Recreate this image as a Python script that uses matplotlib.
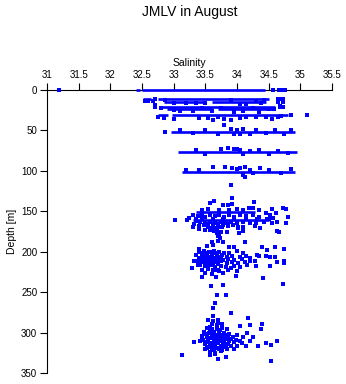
import numpy as np
import matplotlib
matplotlib.use('Agg')
import matplotlib.pyplot as plt

plt.rcParams['font.family'] = ['Liberation Sans', 'DejaVu Sans']

# continuous runs of samples along the standard depths: depth, salinity from, salinity to
run_depth = [0, 0, 11, 11, 14.5, 14.5, 20.5, 24, 24, 31, 31, 51.5, 77, 101, 151, 161]
run_start = [32.41, 32.50, 32.52, 32.75, 32.85, 33.6, 32.78, 32.9, 33.7, 32.75, 32.97, 32.95, 33.07, 33.13, 33.36, 33.30]
run_end = [32.47, 34.44, 32.64, 34.50, 33.5, 34.45, 34.60, 33.6, 34.55, 32.91, 34.80, 34.92, 34.94, 34.92, 34.28, 34.50]

# single samples around the upper layers
upper_pts = [
    (31.19, 0), (34.57, 0), (34.67, 0), (34.70, 0), (34.76, 0),
    (32.70, 11), (34.65, 11), (34.69, 11), (34.73, 11),
    (34.65, 14.5), (34.72, 14.5), (32.70, 20.5), (34.68, 20.5), (34.73, 20.5),
    (34.86, 31), (35.10, 31),
    (32.55, 13), (32.60, 13), (32.68, 13.5), (32.87, 12), (33.0, 15.5), (33.2, 16),
    (33.35, 16), (33.5, 16), (33.9, 12.5), (34.05, 17), (34.15, 17.5), (34.3, 13),
    (34.38, 16), (34.42, 12.5),
    (32.7, 19), (32.8, 22.5), (33.0, 24.5), (33.1, 26.5), (33.3, 26), (33.45, 22),
    (33.6, 25.5), (33.75, 22.5), (33.95, 27), (34.1, 26), (34.25, 22.5), (34.35, 27),
    (34.5, 23), (34.58, 24), (34.68, 20), (34.72, 21),
    (32.75, 34), (32.85, 34.5), (33.0, 36), (33.4, 34.5), (33.55, 35), (33.7, 34),
    (33.8, 35.5), (33.9, 36.5), (34.05, 35), (34.15, 34), (34.3, 33), (34.45, 34),
    (34.55, 36), (34.65, 33), (34.7, 32), (33.62, 37), (33.8, 43),
    (32.86, 51.5), (33.1, 49.5), (33.3, 53.5), (33.5, 49.5), (33.7, 54), (33.9, 48),
    (33.95, 55), (34.0, 49), (34.05, 54.5), (34.1, 48.5), (34.2, 55), (34.3, 49),
    (34.45, 53.5), (34.6, 49.5), (34.75, 54), (34.85, 50),
    (33.35, 74), (33.5, 79), (33.75, 73), (33.85, 72), (33.95, 73), (34.0, 72.5),
    (34.05, 74), (34.1, 79.5), (34.2, 76), (34.35, 74), (34.5, 79), (34.65, 75),
    (34.8, 78),
    (33.2, 99), (33.4, 99), (33.62, 95), (33.81, 95), (33.92, 96), (34.0, 98),
    (34.05, 96), (34.13, 95), (34.2, 99), (34.36, 97), (34.13, 108), (34.1, 105),
    (34.25, 103), (34.5, 99), (34.7, 103), (34.85, 98),
]

# samples around 150-190 m
mid_pts = [
    (33.91, 117), (33.92, 134), (33.57, 140), (33.64, 137), (33.78, 142), (33.85, 142),
    (33.92, 141), (34.27, 139), (34.19, 146), (34.25, 146), (34.73, 146), (34.78, 147),
    (34.55, 147), (33.45, 148), (33.55, 147), (33.72, 148), (33.88, 148), (34.0, 147.5),
    (34.1, 148), (34.35, 149), (34.45, 152), (34.52, 155), (34.62, 152), (34.8, 157),
    (33.3, 154), (33.38, 156), (33.45, 154), (33.5, 157), (33.58, 155), (33.65, 156),
    (33.72, 154), (33.8, 157), (33.88, 155), (33.95, 157), (34.05, 155), (34.15, 156),
    (34.25, 154), (34.35, 157), (33.25, 158), (33.35, 159), (33.42, 163), (33.5, 164),
    (33.58, 163), (33.66, 165), (33.74, 163), (33.82, 164), (33.9, 163), (34.0, 164),
    (34.1, 163), (34.2, 165), (34.3, 164), (34.42, 163), (34.55, 164), (34.63, 163),
    (34.77, 165), (33.32, 166), (33.4, 168), (33.48, 167), (33.55, 169), (33.62, 168),
    (33.7, 169), (33.78, 167), (33.86, 168), (33.94, 167), (34.02, 170), (34.1, 169),
    (34.29, 168), (34.37, 171), (34.63, 174), (34.66, 176), (33.4, 172), (33.49, 173),
    (33.57, 173), (33.65, 172), (33.68, 177), (33.72, 178), (33.75, 175), (33.84, 176),
    (34.02, 171), (34.03, 177), (34.1, 174), (33.7, 181), (33.73, 183), (33.6, 188),
    (33.7, 187), (33.78, 188), (34.13, 188), (33.02, 161), (33.21, 161), (33.3, 169),
    (33.35, 162), (33.45, 160), (33.62, 159), (33.78, 160), (33.95, 160), (34.15, 159),
    (34.32, 160), (34.48, 159), (34.57, 158), (34.5, 160),
    (33.54, 165.5), (33.62, 165.5), (33.7, 166), (33.78, 165), (33.86, 165.5), (33.6, 170.5),
    (33.68, 171), (33.76, 170), (33.64, 174.5), (33.7, 175)
]

# samples around 190-240 m
deep_pts = [
    (33.4, 197), (33.53, 193), (33.62, 192), (33.87, 194), (33.95, 194), (34.0, 199),
    (34.1, 201), (34.39, 194), (34.6, 194), (34.48, 198), (34.74, 197), (34.32, 204),
    (34.35, 205), (34.45, 205), (34.52, 207), (34.6, 207), (34.74, 211), (34.74, 214),
    (34.63, 213), (34.52, 218), (34.28, 211), (34.3, 218), (34.21, 212), (34.16, 217),
    (34.05, 219), (33.95, 218), (33.29, 220), (33.32, 212), (33.38, 216), (33.45, 231),
    (33.67, 231), (33.99, 230), (34.41, 233), (34.73, 240), (33.71, 224), (33.85, 223),
    (34.0, 224), (33.5, 226), (33.6, 227),
    (33.4, 200), (33.48, 199), (33.56, 200), (33.64, 199), (33.72, 200), (33.8, 201),
    (33.88, 202), (33.36, 204), (33.44, 203), (33.52, 204), (33.6, 203), (33.68, 205),
    (33.76, 204), (33.84, 206), (33.92, 205), (34.05, 206), (34.15, 205), (33.4, 208),
    (33.48, 207), (33.55, 209), (33.62, 208), (33.7, 209), (33.78, 210), (33.86, 209),
    (33.96, 210), (34.08, 209), (34.2, 208), (33.38, 212), (33.46, 213), (33.53, 212),
    (33.6, 214), (33.67, 213), (33.75, 212), (33.84, 214), (33.92, 213), (34.02, 214),
    (34.12, 213), (33.42, 217), (33.5, 218), (33.58, 217), (33.66, 219), (33.74, 218),
    (33.82, 219), (33.9, 220), (33.45, 222), (33.55, 221), (33.62, 223), (33.7, 222),
    (33.78, 226), (33.5, 204.5), (33.58, 206), (33.65, 202), (33.47, 210), (33.56, 215),
    (33.62, 211), (33.53, 201),
    (33.44, 206), (33.52, 207), (33.6, 206.5), (33.66, 208.5), (33.74, 207), (33.43, 211),
    (33.51, 210.5), (33.58, 212), (33.7, 211), (33.5, 215), (33.62, 216.5), (33.7, 215.5),
    (33.46, 201.5), (33.6, 200.5), (33.68, 202.5), (33.42, 214), (33.54, 219.5), (33.66, 222.5),
    (33.59, 242), (33.78, 241), (33.68, 254), (33.83, 254), (33.65, 263), (33.62, 269),
    (33.91, 276),
]

# samples around 280-335 m
bottom_pts = [
    (34.18, 282), (34.21, 291), (34.4, 289), (34.38, 295), (34.05, 292), (34.16, 300),
    (34.25, 305), (34.46, 313), (34.54, 315), (34.63, 310), (34.33, 317), (34.15, 316),
    (33.13, 328), (33.32, 312), (33.57, 328), (33.7, 333), (33.83, 330), (34.54, 335),
    (33.45, 305), (33.5, 320), (33.95, 320), (34.05, 310), (34.0, 303), (34.1, 306),
    (33.55, 284), (33.62, 286), (33.7, 285), (33.6, 290), (33.68, 291), (33.76, 289),
    (33.52, 294), (33.6, 295), (33.68, 296), (33.76, 294), (33.84, 296), (33.48, 299),
    (33.56, 300), (33.64, 299), (33.72, 301), (33.8, 300), (33.88, 302), (33.45, 304),
    (33.53, 305), (33.61, 304), (33.69, 306), (33.77, 305), (33.85, 306), (33.93, 305),
    (33.47, 309), (33.55, 310), (33.63, 309), (33.71, 311), (33.79, 310), (33.87, 311),
    (33.95, 312), (33.5, 314), (33.58, 315), (33.66, 314), (33.74, 316), (33.82, 315),
    (33.9, 317), (34.0, 316), (33.52, 319), (33.6, 320), (33.68, 319), (33.76, 321),
    (33.84, 320), (33.58, 324), (33.66, 325), (33.74, 323), (33.62, 302), (33.7, 308),
    (33.66, 312), (33.73, 297),
    (33.58, 297.5), (33.66, 302.5), (33.74, 303.5), (33.82, 303), (33.57, 307), (33.65, 307.5),
    (33.75, 308.5), (33.83, 308), (33.91, 308.5), (33.51, 311.5), (33.6, 312.5), (33.7, 313.5),
    (33.78, 313), (33.86, 314), (33.55, 317.5), (33.63, 317), (33.71, 318.5), (33.8, 318),
    (33.64, 321.5), (33.72, 320.5), (33.5, 302), (33.42, 310), (33.98, 309), (34.08, 313),
    (34.2, 310), (33.62, 280), (33.58, 292.5), (33.7, 288), (33.65, 327)
]

sal_ticks = [31, 31.5, 32, 32.5, 33, 33.5, 34, 34.5, 35, 35.5]
depth_ticks = [0, 50, 100, 150, 200, 250, 300, 350]

fig = plt.figure(figsize=(3.46, 3.84), dpi=100)
ax = fig.add_axes([47/346, 1 - 373/384, 285/346, 283/384])

blue = '#0000ff'
ax.hlines(run_depth, run_start, run_end, colors=blue, lw=1.9, zorder=3, clip_on=False)
for pts in [upper_pts, mid_pts, deep_pts, bottom_pts]:
    a = np.array(pts)
    ax.plot(a[:, 0], a[:, 1], 's', color=blue, ms=3.0, mew=0, zorder=3, clip_on=False)

ax.set_xlim(31, 35.5)
ax.set_ylim(350, 0)
ax.xaxis.set_ticks_position('top')
ax.xaxis.set_label_position('top')
ax.set_xticks(sal_ticks)
ax.set_xticklabels([f'{t:g}' for t in sal_ticks])
ax.set_yticks(depth_ticks)
ax.tick_params(direction='out', length=5, width=0.8, labelsize=7, pad=2)
ax.spines['right'].set_visible(False)
ax.spines['bottom'].set_visible(False)
ax.spines['top'].set_linewidth(0.8)
ax.spines['left'].set_linewidth(0.8)
ax.set_xlabel('Salinity', fontsize=7.5, labelpad=3)
ax.set_ylabel('Depth [m]', fontsize=7.5, labelpad=3)

fig.text(189.5/346, 1 - 12/384, 'JMLV in August', ha='center', va='center', fontsize=10)

fig.savefig('out.png', dpi=100)
